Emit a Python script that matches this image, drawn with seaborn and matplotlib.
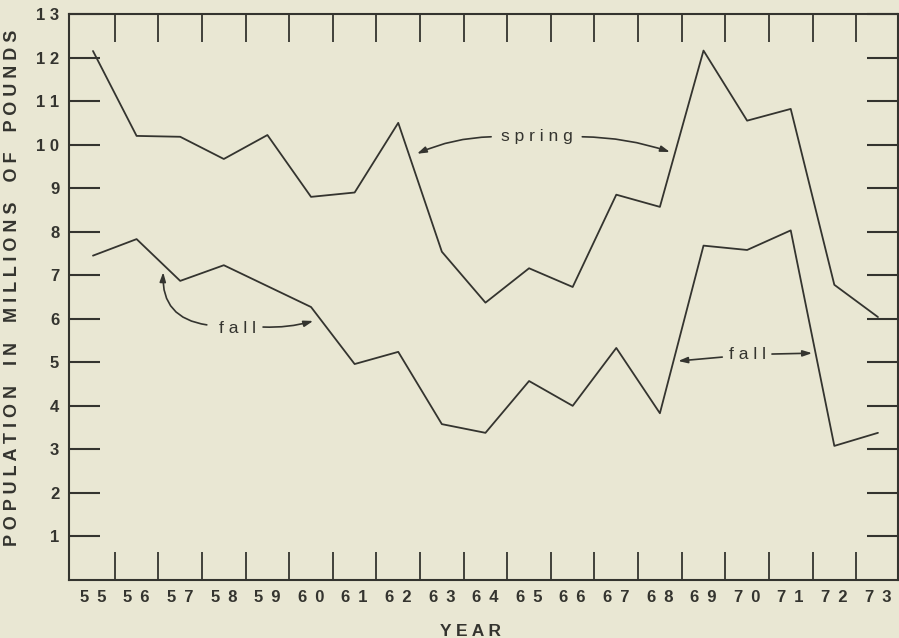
import matplotlib
matplotlib.use("Agg")
import matplotlib.pyplot as plt
import pandas as pd
import seaborn as sns

# === data ===
years = list(range(55, 74))
spring = [12.15, 10.20, 10.18, 9.67, 10.22, 8.80, 8.90, 10.50, 7.54, 6.37,
          7.16, 6.73, 8.85, 8.57, 12.16, 10.55, 10.82, 6.78, 6.04]
fall = [7.45, 7.83, 6.87, 7.23, 6.75, 6.27, 4.96, 5.24, 3.58, 3.38,
        4.57, 4.00, 5.33, 3.83, 7.68, 7.58, 8.03, 3.08, 3.38]
y_ticks = list(range(1, 14))

BG = "#e9e7d3"
INK = "#34342f"

df = pd.DataFrame({"year": years * 2,
                   "value": spring + fall,
                   "season": ["spring"] * len(years) + ["fall"] * len(years)})

sns.set_style("ticks")
plt.rcParams['font.family'] = ['Liberation Sans', 'DejaVu Sans']

def spaced(s, sep=" "):
    return sep.join(s)

fig = plt.figure(figsize=(8.99, 6.38), dpi=100, facecolor=BG)
ax = fig.add_axes([69 / 899, 58 / 638, 829 / 899, 566 / 638])
ax.set_facecolor(BG)

sns.lineplot(data=df, x="year", y="value", units="season", estimator=None,
             color=INK, lw=1.3, ax=ax, legend=False)

ax.set_xlim(54.45, 73.46)
ax.set_ylim(0, 13)

for sp in ax.spines.values():
    sp.set_visible(True)
    sp.set_color(INK)
    sp.set_linewidth(1.5)

# x: labels at year centres, tick marks between years
ax.set_xticks(years, labels=[spaced(str(y), " \u2009") for y in years])
ax.set_xticks([y + 0.5 for y in years[:-1]], minor=True)
ax.tick_params(axis="x", which="major", length=0, pad=7, labelsize=12,
               labelcolor=INK)
ax.tick_params(axis="x", which="minor", direction="in", length=20, width=1.3,
               color=INK, top=True, bottom=True)
for t in ax.get_xticklabels():
    t.set_fontweight("bold")

ax.set_yticks(y_ticks, labels=[spaced(str(v), " ") for v in y_ticks])
ax.tick_params(axis="y", direction="in", length=22, width=1.5, color=INK,
               left=True, right=True, labelright=False, pad=7,
               labelsize=12, labelcolor=INK)
for t in ax.get_yticklabels():
    t.set_fontweight("bold")

ax.set_xlabel("")
ax.set_ylabel("")
fig.text(471 / 899, 1 - 631 / 638, "Y E A R", ha="center", va="center",
         fontsize=12.5, fontweight="bold", color=INK)
ylab = "    ".join(spaced(w) for w in "POPULATION IN MILLIONS OF POUNDS".split())
fig.text(13 / 899, 1 - 288 / 638, ylab, rotation=90, ha="center", va="center",
         fontsize=13, fontweight="bold", color=INK)

# === annotations ===
def arrow(start, tip, rad):
    ax.annotate("", xy=tip, xytext=start,
                arrowprops=dict(arrowstyle="-|>,head_length=0.55,head_width=0.18",
                                connectionstyle=f"arc3,rad={rad}", color=INK,
                                lw=1.2, shrinkA=0, shrinkB=0))

ax.text(65.18, 10.18, spaced("spring"), ha="center", va="center",
        fontsize=12.5, color=INK)
arrow((64.13, 10.18), (62.43, 9.79), 0.1)
arrow((66.22, 10.18), (68.23, 9.83), -0.08)

ax.text(58.32, 5.78, spaced("fall"), ha="center", va="center",
        fontsize=12.5, color=INK)
arrow((57.61, 5.86), (56.61, 7.07), -0.45)
arrow((58.90, 5.81), (60.05, 5.95), 0.08)

ax.text(70.00, 5.17, spaced("fall"), ha="center", va="center",
        fontsize=12.5, color=INK)
arrow((69.43, 5.12), (68.42, 5.03), 0.0)
arrow((70.57, 5.19), (71.49, 5.21), 0.0)

fig.savefig("out.png", dpi=100, facecolor=BG)
